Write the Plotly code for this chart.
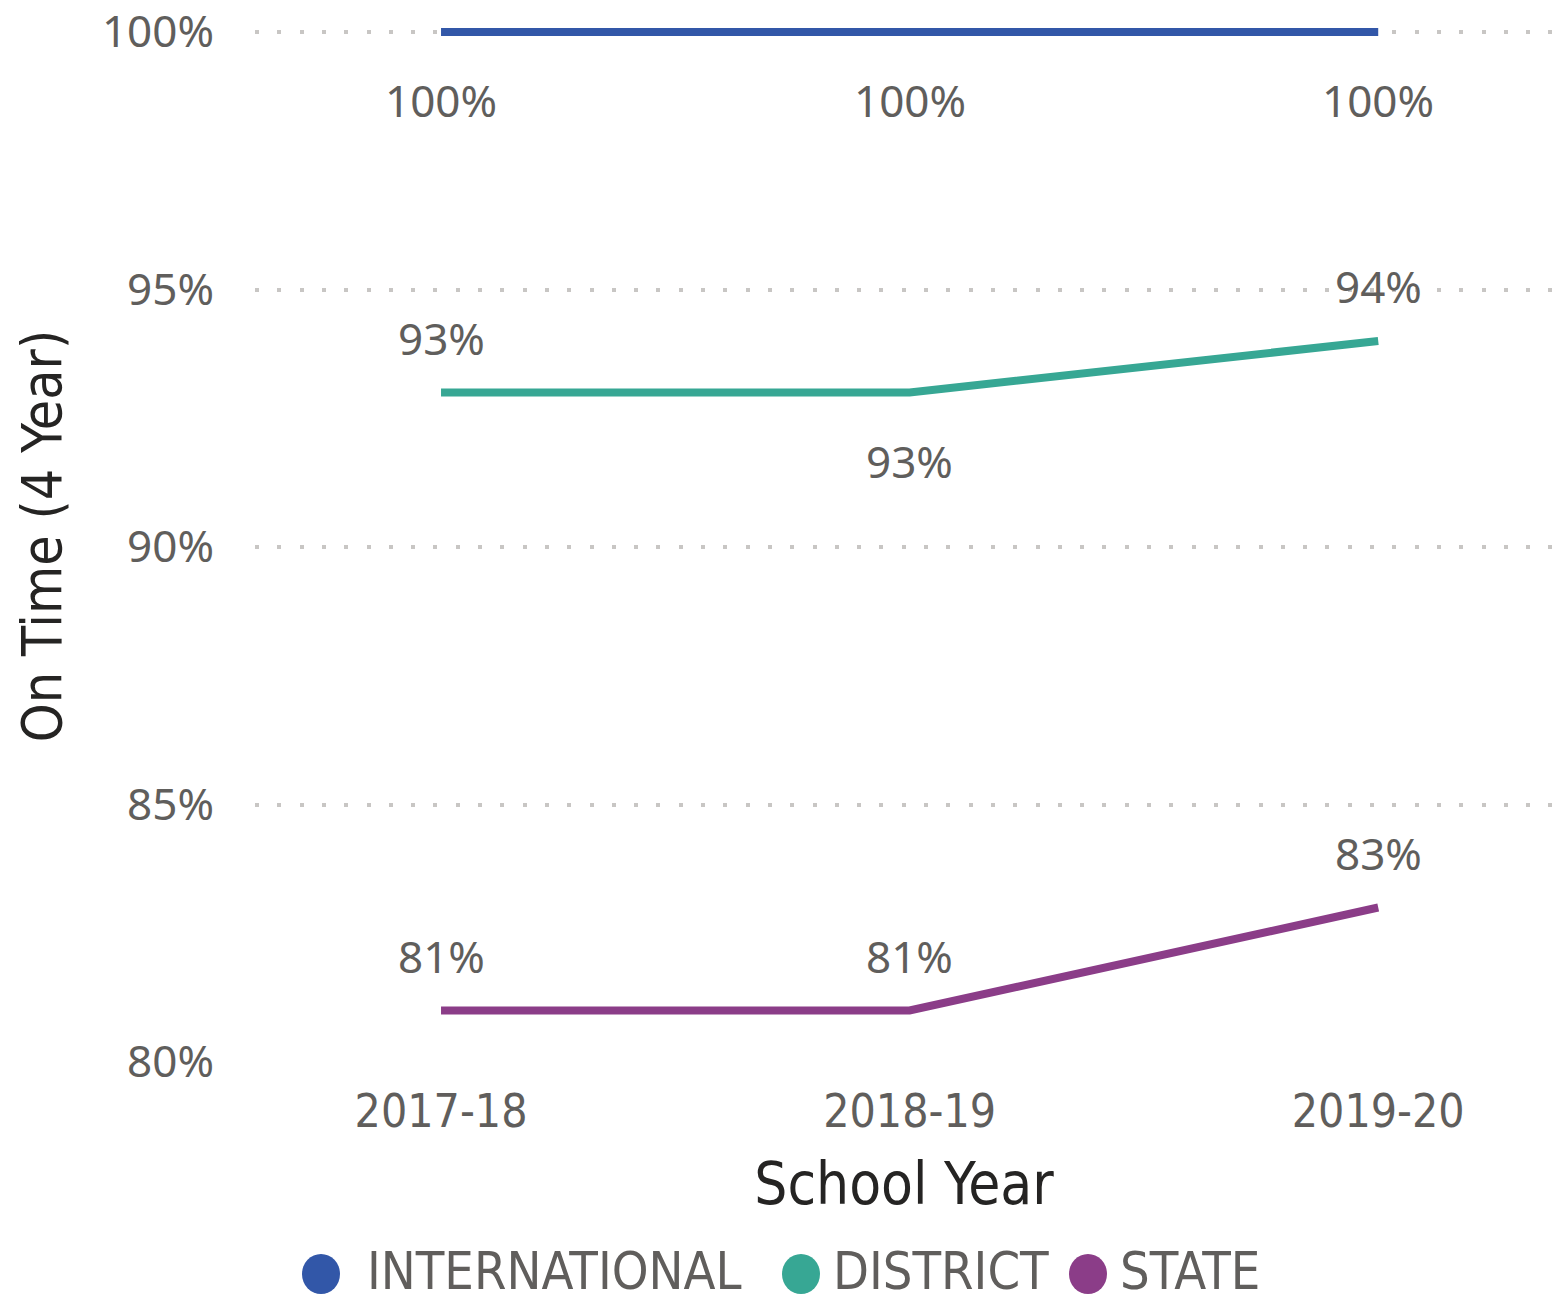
import plotly.graph_objects as go

years = ["2017-18", "2018-19", "2019-20"]
series_names = ["INTERNATIONAL", "DISTRICT", "STATE"]
international = [100, 100, 100]
district = [93, 93, 94]
state = [81, 81, 83]
y_ticks = [80, 85, 90, 95, 100]
y_tick_labels = ["80%", "85%", "90%", "95%", "100%"]

colors = ["#3257A8", "#37A794", "#8B3D88"]
# label placement: +1 above, -1 below
label_side = {
    "INTERNATIONAL": [-1, -1, -1],
    "DISTRICT": [1, -1, 1],
    "STATE": [1, 1, 1],
}

W, H = 1553, 1306
L, R, T, B = 255, 0, 10, 244
px_per_unit = 51.5
y_top = 100 + (32 - T) / px_per_unit

label_font = "Noto Sans, Segoe UI, sans-serif"
din_font = "DejaVu Sans Condensed, DejaVu Sans, sans-serif"
gray = "#605E5C"

fig = go.Figure()
values = [international, district, state]
annotations = []
for name, vals, col in zip(series_names, values, colors):
    fig.add_trace(go.Scatter(
        x=years, y=vals, mode="lines", name=name,
        line=dict(color=col, width=8), showlegend=False, cliponaxis=False,
    ))
    for xv, yv, side in zip(years, vals, label_side[name]):
        annotations.append(dict(
            x=xv, y=yv, xref="x", yref="y", text=f"{yv}%", showarrow=False,
            yanchor="middle", yshift=(55 if side > 0 else -68),
            font=dict(family=label_font, size=44, color=gray),
        ))

# custom legend
plot_w = W - L - R
plot_h = H - T - B
legend_items = [(321, 365), (801, 831), (1088, 1118)]
legend_y = 1274
shapes = []
for (cx, tx), name, col in zip(legend_items, series_names, colors):
    xp = (cx - L) / plot_w
    yp = (H - B - legend_y) / plot_h
    yp_text = (H - B - (legend_y - 3)) / plot_h
    shapes.append(dict(
        type="circle", xref="paper", yref="paper", xsizemode="pixel", ysizemode="pixel",
        xanchor=xp, yanchor=yp, x0=-19, x1=19, y0=-20, y1=20,
        fillcolor=col, line=dict(width=0),
    ))
    annotations.append(dict(
        x=(tx - L) / plot_w, y=yp_text, xref="paper", yref="paper", text=name,
        showarrow=False, xanchor="left", yanchor="middle",
        font=dict(family=din_font, size=52, color=gray),
    ))

fig.update_layout(
    width=W, height=H,
    margin=dict(l=L, r=R, t=T, b=B),
    plot_bgcolor="white", paper_bgcolor="white",
    showlegend=False,
    annotations=annotations,
    shapes=shapes,
    xaxis=dict(
        type="category", range=[-0.397, 2.373],
        showgrid=False, zeroline=False, showline=False, ticks="",
        ticklabelstandoff=18,
        tickfont=dict(family=din_font, size=46, color=gray),
        title=dict(text="School Year", font=dict(family=din_font, size=58, color="#252423"), standoff=26),
    ),
    yaxis=dict(
        range=[80, y_top], tickvals=y_ticks, ticktext=y_tick_labels,
        showgrid=True, gridcolor="#C8C6C4", griddash="4px,18.3px", gridwidth=4,
        zeroline=False, showline=False, ticks="", ticklabelstandoff=40,
        tickfont=dict(family=label_font, size=44, color=gray),
        title=dict(text="On Time (4 Year)", font=dict(family=din_font, size=55, color="#252423"), standoff=22),
    ),
)

fig.write_html(
    "out.html",
    config={"displayModeBar": False},
    post_script="document.body.style.margin='0';document.body.style.padding='0';",
)
